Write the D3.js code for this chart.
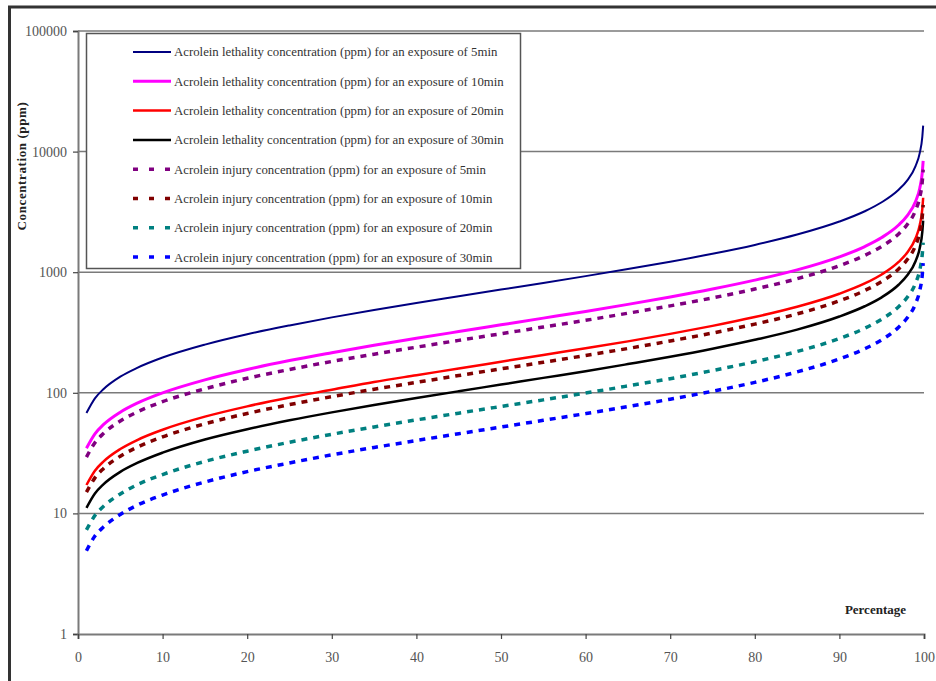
<!DOCTYPE html>
<html>
<head>
<meta charset="utf-8">
<script src="https://cdn.jsdelivr.net/npm/d3@7/dist/d3.min.js"></script>
<style>
  body { margin: 0; background: #fff; }
  svg { display: block; }
  text { font-family: "Liberation Serif", "Times New Roman", serif; fill: #333; }
</style>
</head>
<body>
<svg width="936" height="681"></svg>
<script>
// percentage of the population (x)
var pct = [1, 2, 3, 5, 7, 10, 15, 20, 25, 30, 35, 40, 45, 50, 55, 60, 65, 70, 75, 80, 85, 90, 93, 95, 97, 98, 99, 99.5, 99.8, 99.9];

// concentrations (ppm)
var leth5  = [68, 90, 107, 136, 161, 196, 251, 306, 362, 422, 486, 556, 632, 718, 815, 928, 1061, 1221, 1422, 1684, 2051, 2630, 3202, 3801, 4829, 5753, 7575, 9758, 13261, 16435];
var leth10 = [34.7, 45.7, 54.4, 69.1, 82.1, 99.9, 128, 156, 185, 215, 248, 283, 322, 366, 416, 473, 541, 623, 725, 859, 1045, 1341, 1632, 1938, 2461, 2933, 3861, 4974, 6760, 8378];
var leth20 = [17.2, 22.6, 26.9, 34.2, 40.6, 49.4, 63.4, 77.2, 91.4, 106, 123, 140, 159, 181, 206, 234, 267, 308, 359, 425, 517, 663, 807, 958, 1217, 1450, 1910, 2460, 3343, 4143];
var leth30 = [11.1, 14.6, 17.4, 22.1, 26.2, 31.9, 41.0, 49.9, 59.1, 68.8, 79.2, 90.5, 103, 117, 133, 151, 173, 199, 232, 275, 334, 429, 522, 619, 787, 938, 1234, 1590, 2161, 2678];
var inj5   = [29.3, 38.6, 45.9, 58.4, 69.3, 84.4, 108, 132, 156, 182, 209, 239, 272, 309, 351, 399, 457, 526, 612, 725, 883, 1132, 1378, 1636, 2078, 2476, 3260, 4199, 5707, 7073];
var inj10  = [15.0, 19.7, 23.5, 29.8, 35.4, 43.1, 55.3, 67.4, 79.8, 92.9, 107, 122, 139, 158, 179, 204, 233, 269, 313, 371, 451, 579, 705, 837, 1063, 1266, 1667, 2147, 2918, 3617];
var inj20  = [7.3, 9.6, 11.4, 14.5, 17.3, 21.0, 27.0, 32.8, 38.9, 45.3, 52.1, 59.6, 67.8, 77, 87.4, 99.5, 114, 131, 153, 181, 220, 282, 343, 408, 518, 617, 812, 1046, 1422, 1763];
var inj30  = [4.9, 6.5, 7.7, 9.8, 11.7, 14.2, 18.2, 22.2, 26.2, 30.6, 35.2, 40.2, 45.8, 52, 59.1, 67.2, 76.8, 88.5, 103, 122, 149, 191, 232, 275, 350, 417, 549, 707, 960, 1190];

var seriesNames = [
  "Acrolein lethality concentration (ppm) for an exposure of 5min",
  "Acrolein lethality concentration (ppm) for an exposure of 10min",
  "Acrolein lethality concentration (ppm) for an exposure of 20min",
  "Acrolein lethality concentration (ppm) for an exposure of 30min",
  "Acrolein injury concentration (ppm) for an exposure of 5min",
  "Acrolein injury concentration (ppm) for an exposure of 10min",
  "Acrolein injury concentration (ppm) for an exposure of 20min",
  "Acrolein injury concentration (ppm) for an exposure of 30min"
];
var seriesValues = [leth5, leth10, leth20, leth30, inj5, inj10, inj20, inj30];
var seriesColors = ["#000080", "#ff00ff", "#ff0000", "#000000", "#800080", "#800000", "#008080", "#0000ff"];
var seriesWidths = [2, 3, 2.5, 2.5, 3.5, 3.5, 3.5, 3.5];
var seriesDash   = [null, null, null, null, "6,6", "6,6", "6,6", "6,6"];

var yTicks = [1, 10, 100, 1000, 10000, 100000];
var xTicks = [0, 10, 20, 30, 40, 50, 60, 70, 80, 90, 100];

var svg = d3.select("svg");

// outer frame
svg.append("path")
  .attr("d", "M9.5,700 V7 H940")
  .attr("fill", "none")
  .attr("stroke", "#333")
  .attr("stroke-width", 3);

var x = d3.scaleLinear().domain([0, 100]).range([78, 924]);
var y = d3.scaleLog().domain([1, 100000]).range([634, 31]);

// grid lines
svg.append("g")
  .selectAll("line")
  .data(yTicks.slice(1))
  .enter()
  .append("line")
  .attr("x1", x(0))
  .attr("x2", x(100))
  .attr("y1", d => y(d))
  .attr("y2", d => y(d))
  .attr("stroke", "#7a7a7a")
  .attr("stroke-width", 1.5);

// axes
var yAxis = svg.append("g")
  .attr("transform", "translate(" + x(0) + ",0)")
  .call(d3.axisLeft(y).tickValues(yTicks).tickFormat(d3.format("d")).tickSize(5).tickPadding(6));

var xAxis = svg.append("g")
  .attr("transform", "translate(0," + y(1) + ")")
  .call(d3.axisBottom(x).tickValues(xTicks).tickSize(5).tickPadding(13));

[yAxis, xAxis].forEach(function(ax) {
  ax.select(".domain").attr("stroke", "#7a7a7a").attr("stroke-width", 2);
  ax.selectAll(".tick line").attr("stroke", "#444").attr("stroke-width", 1.2);
  ax.selectAll(".tick text")
    .attr("font-family", "Liberation Serif")
    .attr("font-size", 14)
    .style("fill", "#555");
});

// curves
var line = d3.line()
  .x((d, i) => x(pct[i]))
  .y(d => y(d))
  .curve(d3.curveMonotoneX);

svg.append("g")
  .selectAll("path")
  .data(seriesValues)
  .enter()
  .append("path")
  .attr("d", d => line(d))
  .attr("fill", "none")
  .attr("stroke", (d, i) => seriesColors[i])
  .attr("stroke-width", (d, i) => seriesWidths[i])
  .attr("stroke-dasharray", (d, i) => seriesDash[i]);

// axis titles
svg.append("text")
  .attr("transform", "translate(26,166) rotate(-90)")
  .attr("text-anchor", "middle")
  .attr("font-weight", "bold")
  .attr("font-size", 13)
  .attr("letter-spacing", 0.6)
  .style("fill", "#222")
  .text("Concentration (ppm)");

svg.append("text")
  .attr("x", 906)
  .attr("y", 614)
  .attr("text-anchor", "end")
  .attr("font-weight", "bold")
  .attr("font-size", 13)
  .style("fill", "#222")
  .text("Percentage");

// legend
var legend = svg.append("g").attr("transform", "translate(86,33)");

legend.append("rect")
  .attr("x", 0.5)
  .attr("y", 0.5)
  .attr("width", 434)
  .attr("height", 235)
  .attr("fill", "#fff")
  .attr("stroke", "#555")
  .attr("stroke-width", 1.5);

var rows = legend.selectAll(".row")
  .data(seriesNames)
  .enter()
  .append("g")
  .attr("class", "row")
  .attr("transform", (d, i) => "translate(0," + (19 + i * 29.3) + ")");

rows.append("line")
  .attr("x1", 47)
  .attr("x2", 85)
  .attr("stroke", (d, i) => seriesColors[i])
  .attr("stroke-width", (d, i) => seriesWidths[i])
  .attr("stroke-dasharray", (d, i) => seriesDash[i] ? "5,11" : null);

rows.append("text")
  .attr("x", 88)
  .attr("dy", "0.35em")
  .attr("font-size", 12.8)
  .style("fill", "#333")
  .text(d => d);
</script>
</body>
</html>
